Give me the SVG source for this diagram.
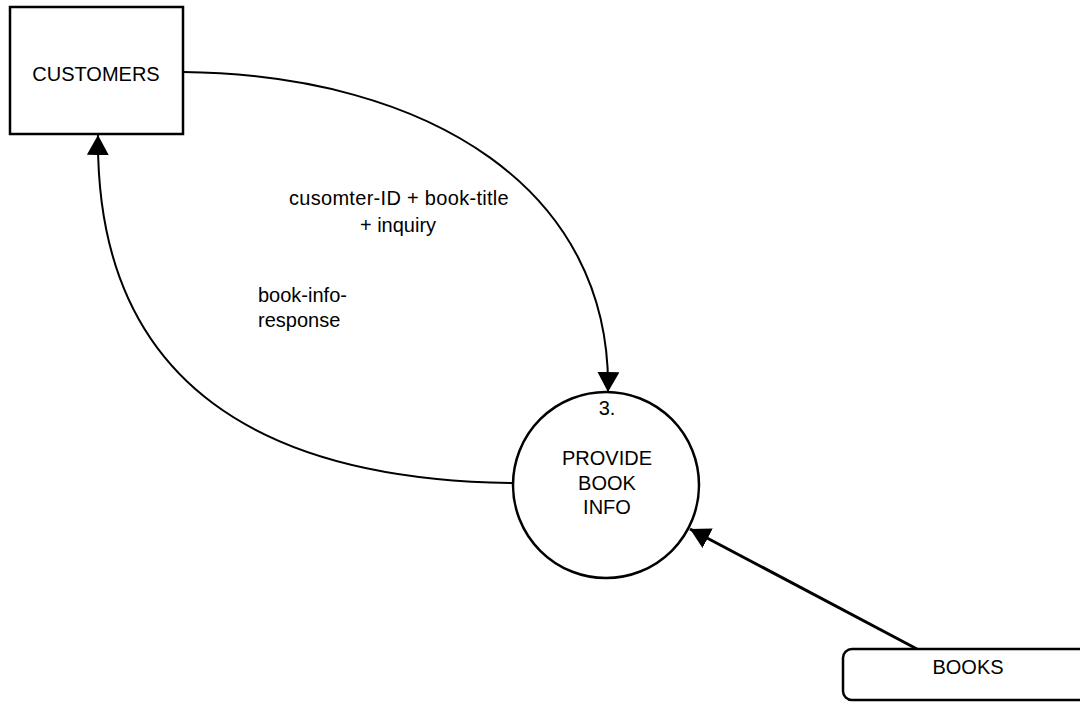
<svg xmlns="http://www.w3.org/2000/svg" width="1080" height="702" viewBox="0 0 1080 702">
<style>
.t{font-family:"Liberation Sans",Arial,sans-serif;font-size:20px;fill:#000}
.c{text-anchor:middle}
.shape{fill:#fff;stroke:#000;stroke-width:2.5}
.flow{fill:none;stroke:#000;stroke-width:2}
</style>
<defs>
<marker id="ah" markerUnits="userSpaceOnUse" markerWidth="24" markerHeight="24" refX="20" refY="11" orient="auto">
<path d="M0,0 L20,11 L0,22 z" fill="#000"/>
</marker>
</defs>
<rect width="1080" height="702" fill="#fff"/>
<g id="connectors">
<path class="flow" d="M183,72 C430,75 612,190 608,392" marker-end="url(#ah)"/>
<path class="flow" d="M513,483 C270,480 95,390 98,135" marker-end="url(#ah)"/>
<path class="flow" style="stroke-width:3" d="M917,649 L690,529" marker-end="url(#ah)"/>
<text class="t c" x="399" y="205" style="letter-spacing:0.3px">cusomter-ID + book-title</text>
<text class="t c" x="398" y="232">+ inquiry</text>
<text class="t" x="258" y="302">book-info-</text>
<text class="t" x="258" y="327">response</text>
</g>
<g id="customers">
<rect class="shape" x="10" y="7" width="173" height="127"/>
<text class="t c" x="96" y="81">CUSTOMERS</text>
</g>
<g id="process3">
<circle class="shape" cx="606" cy="485" r="93"/>
<text class="t c" x="607" y="415">3.</text>
<text class="t c" x="607" y="465">PROVIDE</text>
<text class="t c" x="607" y="490">BOOK</text>
<text class="t c" x="607" y="514">INFO</text>
</g>
<g id="books">
<rect class="shape" x="843" y="649" width="260" height="51" rx="9"/>
<text class="t c" x="968" y="674">BOOKS</text>
</g>
</svg>
